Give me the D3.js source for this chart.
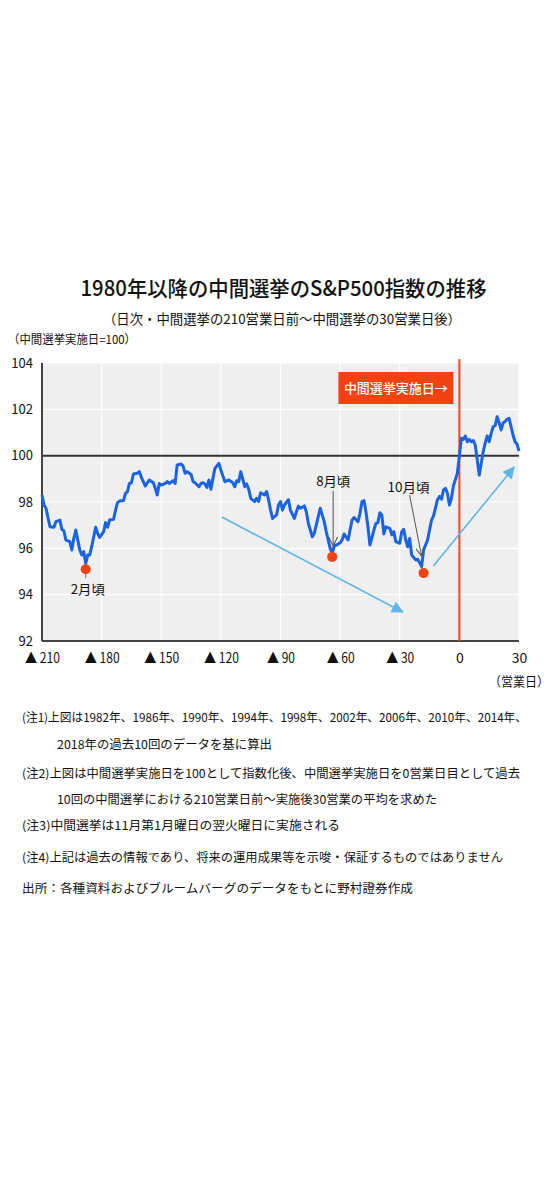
<!DOCTYPE html>
<html>
<head>
<meta charset="utf-8">
<script src="https://cdn.jsdelivr.net/npm/d3@7"></script>
<style>
  body { margin: 0; background: #fff; }
  text { font-family: "Noto Sans CJK JP", "Liberation Sans", sans-serif; fill: #111; }
</style>
</head>
<body>
<div id="chart"></div>
<script>
// business days from the election (0 = election day)
var days = [
  -210, -209, -208, -206, -204, -203, -201, -200, -199, -198, -196, -195, -194, -193, -191, -190,
  -189, -188, -187, -186, -185, -183, -182, -181, -179, -178, -177, -176, -174, -173, -172, -171,
  -169, -168, -167, -166, -165, -164, -162, -161, -160, -158, -157, -156, -154, -153, -152, -151,
  -150, -148, -147, -146, -144, -143, -142, -140, -139, -138, -137, -135, -134, -133, -131, -130,
  -129, -128, -127, -126, -125, -124, -123, -121, -120, -119, -118, -116, -114, -113, -112, -111,
  -110, -108, -107, -106, -105, -103, -102, -101, -100, -98, -97, -96, -95, -94, -92, -91,
  -90, -89, -88, -86, -85, -83, -82, -81, -80, -78, -77, -76, -74, -73, -72, -71,
  -70, -68, -67, -66, -65, -64, -63, -61, -60, -59, -58, -56, -55, -54, -53, -51,
  -50, -49, -48, -47, -46, -45, -43, -42, -41, -40, -39, -38, -37, -35, -34, -33,
  -32, -30, -29, -28, -27, -26, -25, -24, -22, -21, -20, -19, -18, -16, -15, -14,
  -13, -11, -10, -9, -8, -7, -6, -5, -4, -3, -1, 0,
  1, 2, 3, 4, 5, 6, 7, 8, 9, 10, 11, 12, 13, 14, 15, 16,
  17, 18, 19, 20, 21, 22, 23, 24, 25, 26, 27, 28, 29, 30
];

// S&P500 average index (election day = 100)
var index = [
  98.30, 97.87, 97.73, 96.93, 96.91, 97.15, 97.22, 96.82, 96.76, 96.36, 96.29, 95.93, 96.43, 96.79, 95.93, 95.71,
  95.86, 95.35, 95.71, 95.71, 96.07, 96.91, 96.65, 96.47, 96.72, 97.11, 96.91, 97.22, 97.25, 97.65, 97.97, 98.04,
  98.06, 98.37, 98.45, 98.80, 98.83, 99.21, 99.24, 99.31, 99.06, 98.69, 98.83, 98.95, 98.83, 98.59, 98.30, 98.80,
  98.73, 98.80, 98.88, 98.80, 98.92, 98.80, 99.60, 99.64, 99.55, 99.24, 99.31, 99.19, 98.88, 98.83, 98.66, 98.80,
  98.83, 98.78, 98.63, 98.95, 98.55, 99.02, 99.45, 99.67, 99.38, 99.12, 98.88, 98.95, 98.83, 98.66, 98.92, 98.88,
  99.31, 98.66, 98.78, 98.55, 98.16, 98.02, 98.16, 98.02, 98.40, 98.30, 98.45, 98.10, 97.65, 97.29, 97.44, 97.87,
  98.02, 97.65, 97.87, 98.10, 97.65, 97.29, 97.58, 97.82, 97.73, 97.83, 97.58, 97.08, 96.50, 96.65, 97.01, 97.37,
  97.73, 97.15, 96.72, 96.36, 96.00, 95.78, 96.10, 96.18, 96.24, 96.36, 96.62, 96.36, 96.79, 97.22, 97.33, 97.15,
  97.51, 98.02, 98.06, 97.58, 96.93, 96.14, 96.79, 97.08, 97.11, 97.54, 97.44, 96.62, 96.93, 96.86, 96.58, 96.72,
  96.29, 96.22, 96.72, 96.82, 96.36, 96.07, 96.43, 95.71, 95.50, 95.53, 95.38, 95.21, 95.93, 96.36, 96.79, 97.22,
  97.40, 98.10, 98.24, 98.12, 98.52, 98.59, 98.37, 97.87, 98.16, 98.70, 99.24, 100.00,
  100.75, 100.70, 100.85, 100.60, 100.70, 100.60, 100.65, 100.45, 99.81, 99.16, 99.67, 100.17, 100.55, 100.85, 100.60, 100.96,
  101.25, 101.30, 101.68, 101.42, 101.11, 101.42, 101.47, 101.57, 101.61, 101.25, 100.89, 100.60, 100.50, 100.20
];

var yTicks = [92, 94, 96, 98, 100, 102, 104];
var xTicks = [-210, -180, -150, -120, -90, -60, -30, 0, 30];
var xTickLabels = ["▲ 210", "▲ 180", "▲ 150", "▲ 120", "▲ 90", "▲ 60", "▲ 30", "0", "30"];

// marked lows
var lowDays = [-188, -64, -18];
var lowValues = [95.1, 95.63, 94.93];
var lowLabels = ["2月頃", "8月頃", "10月頃"];

// trend arrows [day, value] start and end
var trendStart = [[-119.5, 97.35], [-13, 95.25]];
var trendEnd = [[-28.5, 93.25], [27.5, 99.5]];

var notes = [
  "(注1)上図は1982年、1986年、1990年、1994年、1998年、2002年、2006年、2010年、2014年、",
  "2018年の過去10回のデータを基に算出",
  "(注2)上図は中間選挙実施日を100として指数化後、中間選挙実施日を0営業日目として過去",
  "10回の中間選挙における210営業日前～実施後30営業の平均を求めた",
  "(注3)中間選挙は11月第1月曜日の翌火曜日に実施される",
  "(注4)上記は過去の情報であり、将来の運用成果等を示唆・保証するものではありません",
  "出所：各種資料およびブルームバーグのデータをもとに野村證券作成"
];

var svgWidth = 555;
var svgHeight = 1200;

var margin = {
  top: 363,
  bottom: 559,
  right: 36,
  left: 42
};

var width = svgWidth - margin.left - margin.right;
var height = svgHeight - margin.top - margin.bottom;

var svg = d3.select("#chart")
  .append("svg")
  .attr("width", svgWidth)
  .attr("height", svgHeight);

// text with a fixed width so it lines up with the original
function addText(parent, x, y, str, size, len, anchor) {
  var t = parent.append("text")
    .attr("x", x)
    .attr("y", y)
    .attr("font-size", size)
    .attr("text-anchor", anchor || "start")
    .text(str);
  if (len) {
    t.attr("textLength", len).attr("lengthAdjust", "spacingAndGlyphs");
  }
  return t;
}

// titles
addText(svg, 283.5, 296, "1980年以降の中間選挙のS&P500指数の推移", 21, 406, "middle")
  .attr("font-weight", 500);
addText(svg, 282, 324, "（日次・中間選挙の210営業日前～中間選挙の30営業日後）", 13.5, 358, "middle");
addText(svg, 8, 344, "（中間選挙実施日=100）", 12, 128);

var defs = svg.append("defs");

defs.append("marker")
  .attr("id", "blueHead")
  .attr("viewBox", "0 0 10 10")
  .attr("refX", 9)
  .attr("refY", 5)
  .attr("markerUnits", "userSpaceOnUse")
  .attr("markerWidth", 15)
  .attr("markerHeight", 12)
  .attr("orient", "auto")
  .append("path")
  .attr("d", "M0,0 L10,5 L0,10 Z")
  .attr("fill", "#5cb6ea");

defs.append("marker")
  .attr("id", "grayHead")
  .attr("viewBox", "0 0 10 10")
  .attr("refX", 10)
  .attr("refY", 5)
  .attr("markerUnits", "userSpaceOnUse")
  .attr("markerWidth", 9)
  .attr("markerHeight", 9)
  .attr("orient", "auto")
  .append("path")
  .attr("d", "M0,0 L10,5 L0,10")
  .attr("fill", "none")
  .attr("stroke", "#555")
  .attr("stroke-width", 1.2);

var chartGroup = svg.append("g")
  .attr("transform", `translate(${margin.left}, ${margin.top})`);

var xLinearScale = d3.scaleLinear()
  .domain([-210, 30])
  .range([0, width]);

var yLinearScale = d3.scaleLinear()
  .domain([92, 104])
  .range([height, 0]);

// plot background
chartGroup.append("rect")
  .attr("width", width)
  .attr("height", height)
  .attr("fill", "#efefef");

// grid
chartGroup.selectAll(".hgrid")
  .data(yTicks)
  .enter()
  .append("line")
  .attr("x1", 0)
  .attr("x2", width)
  .attr("y1", d => yLinearScale(d))
  .attr("y2", d => yLinearScale(d))
  .attr("stroke", "#fff")
  .attr("stroke-width", 1.2);

chartGroup.selectAll(".vgrid")
  .data(xTicks)
  .enter()
  .append("line")
  .attr("x1", d => xLinearScale(d))
  .attr("x2", d => xLinearScale(d))
  .attr("y1", 0)
  .attr("y2", height)
  .attr("stroke", "#fff")
  .attr("stroke-width", 1.2);

// axes
var leftAxis = d3.axisLeft(yLinearScale)
  .tickValues(yTicks)
  .tickSize(0)
  .tickPadding(9);

var bottomAxis = d3.axisBottom(xLinearScale)
  .tickValues(xTicks)
  .tickFormat((d, i) => xTickLabels[i])
  .tickSize(0)
  .tickPadding(12);

var yAxis = chartGroup.append("g").call(leftAxis);
yAxis.select(".domain").remove();
yAxis.selectAll("text")
  .attr("font-size", 13)
  .style("font-family", "'Noto Sans CJK JP', sans-serif")
  .attr("fill", "#111");

var xAxis = chartGroup.append("g")
  .attr("transform", `translate(0, ${height})`)
  .call(bottomAxis);
xAxis.select(".domain").remove();
xAxis.selectAll("text")
  .attr("font-size", 14)
  .style("font-family", "'Noto Sans CJK JP', sans-serif")
  .attr("fill", "#111")
  .each(function(d, i) {
    // triangle labels are squeezed to the original width
    if (d < 0) {
      d3.select(this)
        .attr("textLength", d > -100 ? 28 : 35)
        .attr("lengthAdjust", "spacingAndGlyphs");
    }
  });

addText(svg, 519, 686, "（営業日）", 13, 60, "middle");

// 100 reference line
chartGroup.append("line")
  .attr("x1", 0)
  .attr("x2", width)
  .attr("y1", yLinearScale(100))
  .attr("y2", yLinearScale(100))
  .attr("stroke", "#333")
  .attr("stroke-width", 2);

// axis lines
chartGroup.append("line")
  .attr("x1", 0).attr("x2", 0)
  .attr("y1", 0).attr("y2", height)
  .attr("stroke", "#444")
  .attr("stroke-width", 2);

chartGroup.append("line")
  .attr("x1", 0).attr("x2", width)
  .attr("y1", height).attr("y2", height)
  .attr("stroke", "#444")
  .attr("stroke-width", 2);

// election day line
chartGroup.append("line")
  .attr("x1", xLinearScale(0))
  .attr("x2", xLinearScale(0))
  .attr("y1", -4)
  .attr("y2", height)
  .attr("stroke", "#ec4a22")
  .attr("stroke-width", 2);

// election day label
var boxRight = xLinearScale(0) - 6;
chartGroup.append("rect")
  .attr("x", boxRight - 115)
  .attr("y", 9)
  .attr("width", 115)
  .attr("height", 32)
  .attr("fill", "#f2420f");

addText(chartGroup, boxRight - 57.5, 30, "中間選挙実施日→", 13, 104, "middle")
  .attr("font-weight", 500)
  .style("fill", "#fff");

// trend arrows
chartGroup.selectAll(".trend")
  .data(trendStart)
  .enter()
  .append("line")
  .attr("x1", d => xLinearScale(d[0]))
  .attr("y1", d => yLinearScale(d[1]))
  .attr("x2", (d, i) => xLinearScale(trendEnd[i][0]))
  .attr("y2", (d, i) => yLinearScale(trendEnd[i][1]))
  .attr("stroke", "#5cb6ea")
  .attr("stroke-width", 1.6)
  .attr("marker-end", "url(#blueHead)");

// index line
var line = d3.line()
  .x(d => xLinearScale(d[0]))
  .y(d => yLinearScale(d[1]));

var points = days.map((d, i) => [d, index[i]]);

chartGroup.append("path")
  .datum(points)
  .attr("d", line)
  .attr("fill", "none")
  .attr("stroke", "#1a63e2")
  .attr("stroke-width", 3)
  .attr("stroke-linejoin", "round");

// lows
var lx = lowDays.map(d => xLinearScale(d));
var ly = lowValues.map(v => yLinearScale(v));

// 2月頃: label under the dot
chartGroup.append("line")
  .attr("x1", lx[0]).attr("x2", lx[0])
  .attr("y1", ly[0]).attr("y2", ly[0] + 9)
  .attr("stroke", "#777")
  .attr("stroke-width", 1);
addText(chartGroup, lx[0] + 2, ly[0] + 25, lowLabels[0], 13, 34, "middle");

// 8月頃: label above with arrow
addText(chartGroup, lx[1] + 1, ly[1] - 71, lowLabels[1], 13, 34, "middle");
chartGroup.append("line")
  .attr("x1", lx[1] + 1).attr("x2", lx[1] + 1)
  .attr("y1", ly[1] - 66).attr("y2", ly[1] - 11)
  .attr("stroke", "#555")
  .attr("stroke-width", 1)
  .attr("marker-end", "url(#grayHead)");

// 10月頃
addText(chartGroup, lx[2] - 15, ly[2] - 81, lowLabels[2], 13, 42, "middle");
chartGroup.append("line")
  .attr("x1", lx[2] - 14).attr("x2", lx[2] - 2)
  .attr("y1", ly[2] - 78).attr("y2", ly[2] - 17)
  .attr("stroke", "#555")
  .attr("stroke-width", 1)
  .attr("marker-end", "url(#grayHead)");

chartGroup.selectAll(".low")
  .data(lowDays)
  .enter()
  .append("circle")
  .attr("cx", (d, i) => lx[i])
  .attr("cy", (d, i) => ly[i])
  .attr("r", 5)
  .attr("fill", "#f2420f");

// notes
var noteX = [22, 57, 22, 57, 22, 22, 22];
var noteY = [722, 749, 778, 804, 830, 862, 893];
var noteW = [505, 215, 498, 380, 318, 481, 391];

notes.forEach(function(n, i) {
  addText(svg, noteX[i], noteY[i], n, 12, noteW[i]);
});
</script>
</body>
</html>
